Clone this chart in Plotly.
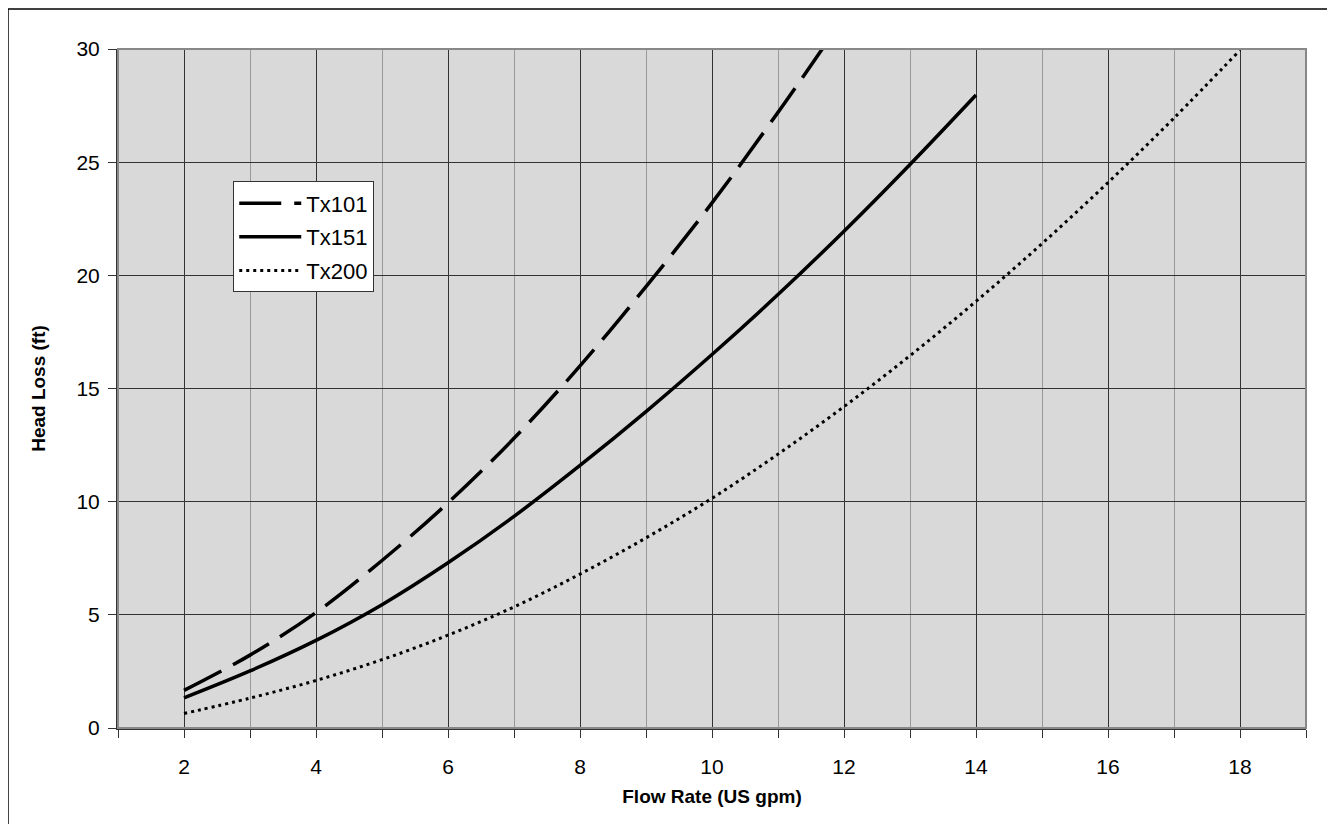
import plotly.graph_objects as go

# flow rate (US gpm) and head loss (ft)
flow_tx101 = [2, 3, 4, 5, 6, 7, 8, 9, 10, 11, 11.67]
loss_tx101 = [1.66, 3.22, 5.1, 7.4, 9.95, 12.8, 16.0, 19.5, 23.2, 27.2, 30.0]

flow_tx151 = [2, 3, 4, 5, 6, 7, 8, 9, 10, 11, 12, 13, 14]
loss_tx151 = [1.33, 2.52, 3.87, 5.45, 7.3, 9.35, 11.6, 13.98, 16.5, 19.15, 21.95, 24.9, 27.97]

flow_tx200 = [2, 3, 4, 5, 6, 7, 8, 9, 10, 11, 12, 13, 14, 15, 16, 17, 18]
loss_tx200 = [0.64, 1.32, 2.1, 3.02, 4.1, 5.35, 6.8, 8.4, 10.15, 12.1, 14.2,
              16.45, 18.85, 21.4, 24.1, 26.95, 29.95]

x_ticks = [2, 4, 6, 8, 10, 12, 14, 16, 18]
y_ticks = [0, 5, 10, 15, 20, 25, 30]

FONT = "Liberation Sans, Arial, sans-serif"

data = [
    go.Scatter(x=flow_tx101, y=loss_tx101, mode="lines", name="Tx101", line_shape="spline",
               legendgroup="a", line=dict(color="black", width=3.5, dash="42px,13px")),
    go.Scatter(x=flow_tx151, y=loss_tx151, mode="lines", name="Tx151", line_shape="spline",
               legendgroup="b", line=dict(color="black", width=3.5)),
    go.Scatter(x=flow_tx200, y=loss_tx200, mode="lines", name="Tx200", line_shape="spline",
               legendgroup="c", line=dict(color="black", width=3, dash="3px,4px")),
]

layout = go.Layout(
    width=1335,
    height=824,
    paper_bgcolor="white",
    plot_bgcolor="#D9D9D9",
    font=dict(family=FONT, size=21, color="black"),
    margin=dict(l=110, r=37, t=41, b=104),
    showlegend=True,
    legend=dict(
        x=0.097, y=0.805, xanchor="left", yanchor="top",
        bgcolor="white", bordercolor="#333333", borderwidth=1,
        font=dict(size=22), tracegroupgap=2, itemwidth=62,
    ),
    xaxis=dict(
        range=[1, 19],
        tickvals=x_ticks,
        ticks="",
        ticklabelstandoff=19,
        showgrid=True,
        gridcolor="#333333",
        gridwidth=1,
        minor=dict(dtick=1, tick0=1, showgrid=True, gridcolor="#999999", gridwidth=1,
                   ticks="outside", ticklen=8, tickcolor="#333333", tickwidth=1),
        showline=True,
        linecolor="#333333",
        linewidth=2,
        zeroline=False,
        title=dict(text="<b>Flow Rate (US gpm)</b>", font=dict(size=19), standoff=12),
    ),
    yaxis=dict(
        range=[0, 30],
        tickvals=y_ticks,
        ticks="outside",
        ticklen=8,
        tickcolor="#333333",
        ticklabelstandoff=4,
        showgrid=True,
        gridcolor="#333333",
        gridwidth=1,
        showline=True,
        linecolor="#333333",
        linewidth=2,
        zeroline=False,
        title=dict(text="<b>Head Loss (ft)</b>", font=dict(size=19), standoff=26),
    ),
    shapes=[
        # gray frame on the top and right of the plot area
        dict(type="rect", xref="paper", yref="paper", x0=0, y0=0, x1=1, y1=1,
             line=dict(color="#888888", width=2), layer="above"),
        # outer image border (left and top edges)
        dict(type="line", xref="paper", yref="paper", x0=-0.0926, x1=-0.0926, y0=-0.2, y1=1.059,
             line=dict(color="black", width=1.5)),
        dict(type="line", xref="paper", yref="paper", x0=-0.0926, x1=1.1, y0=1.059, y1=1.059,
             line=dict(color="black", width=1.5)),
    ],
)

fig = go.Figure(data, layout)
fig.write_html("out.html")
